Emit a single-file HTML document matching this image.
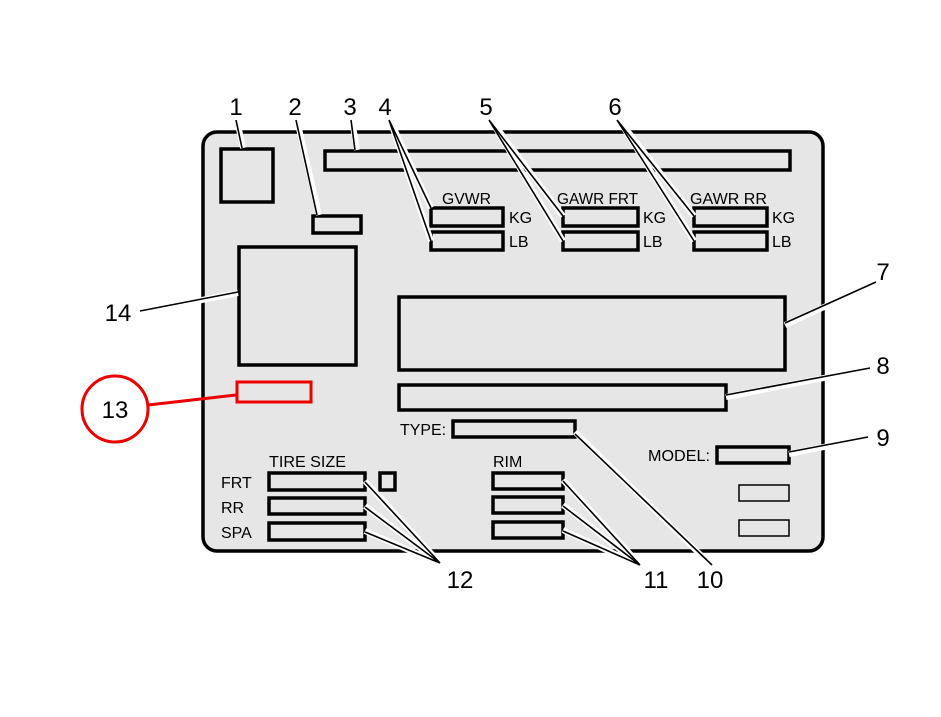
<!DOCTYPE html>
<html><head><meta charset="utf-8"><style>
html,body{margin:0;padding:0;background:#fff;}
svg{display:block;}
text{font-family:"Liberation Sans",sans-serif;fill:#000;}
.n{font-size:24px;}
.s{font-size:16px;}
</style></head><body>
<svg width="941" height="717" viewBox="0 0 941 717">
<rect x="203" y="132" width="620" height="419" rx="14" fill="#e6e6e6" stroke="#000" stroke-width="3.5"/>
<g fill="#e6e6e6" stroke="#000" stroke-width="3.5">
<rect x="221" y="149" width="52" height="53"/>
<rect x="313" y="216" width="48" height="17"/>
<rect x="325" y="151" width="465" height="19"/>
<rect x="431" y="208" width="72" height="18"/>
<rect x="431" y="232" width="72" height="18"/>
<rect x="563" y="208" width="75" height="18"/>
<rect x="563" y="232" width="75" height="18"/>
<rect x="694" y="208" width="73" height="18"/>
<rect x="694" y="232" width="73" height="18"/>
<rect x="239" y="247" width="117" height="118"/>
<rect x="399" y="297" width="386" height="73"/>
<rect x="399" y="385" width="327" height="25"/>
<rect x="453" y="421" width="122" height="16"/>
<rect x="717" y="447" width="72" height="16"/>
<rect x="269" y="473" width="96" height="17"/>
<rect x="269" y="498" width="96" height="16"/>
<rect x="269" y="523" width="96" height="17"/>
<rect x="380" y="473" width="15" height="17"/>
<rect x="493" y="473" width="70" height="16"/>
<rect x="493" y="497" width="70" height="16"/>
<rect x="493" y="522" width="70" height="16"/>
</g>
<g fill="none" stroke="#000" stroke-width="1.5">
<rect x="739" y="485" width="50" height="16"/>
<rect x="739" y="520" width="50" height="16"/>
</g>
<rect x="237" y="382" width="74" height="20" fill="#e6e6e6" stroke="#e00" stroke-width="3"/>
<g stroke="#fff" stroke-width="6" fill="none">
<path d="M237 120L243 148M297 120L319 215M352 120L357 150M390 120L431 208M390 120L431 241M491 120L563 216M491 120L563 241M619 120L694 216M619 120L694 241M876 283L785 325M870 369L726 397M868 438L789 454M712 566L575 432M641 566L563 480M641 566L563 505M641 566L563 530M441 564L365 481M441 564L365 506M441 564L365 531M140 312L238 293"/>
</g>
<g stroke="#000" stroke-width="1.6" fill="none">
<path d="M236 120L242 148M296 120L317 215M351 120L355 150M389 120L431 208M389 120L431 241M489 120L563 216M489 120L563 241M617 120L694 216M617 120L694 241M876 282L785 323M870 368L726 395M868 437L789 452M712 565L575 434M640 565L563 481M640 565L563 506M640 565L563 531M440 563L365 482M440 563L365 507M440 563L365 532M140 311L238 292"/>
</g>
<line x1="148" y1="405" x2="236" y2="395" stroke="#e00" stroke-width="3"/>
<circle cx="115" cy="409" r="33" fill="none" stroke="#e00" stroke-width="3"/>
<text class="n" x="115" y="418" text-anchor="middle">13</text>
<g class="n">
<text x="236" y="115" text-anchor="middle">1</text>
<text x="295" y="115" text-anchor="middle">2</text>
<text x="350" y="115" text-anchor="middle">3</text>
<text x="385" y="115" text-anchor="middle">4</text>
<text x="486" y="115" text-anchor="middle">5</text>
<text x="615" y="115" text-anchor="middle">6</text>
<text x="883" y="280" text-anchor="middle">7</text>
<text x="883" y="374" text-anchor="middle">8</text>
<text x="883" y="446" text-anchor="middle">9</text>
<text x="710" y="588" text-anchor="middle">10</text>
<text x="656" y="588" text-anchor="middle">11</text>
<text x="460" y="588" text-anchor="middle">12</text>
<text x="118" y="321" text-anchor="middle">14</text>
</g>
<g class="s">
<text x="442" y="204" textLength="49" lengthAdjust="spacingAndGlyphs">GVWR</text>
<text x="557" y="204" textLength="81" lengthAdjust="spacingAndGlyphs">GAWR FRT</text>
<text x="690" y="204" textLength="77" lengthAdjust="spacingAndGlyphs">GAWR RR</text>
<text x="509" y="223">KG</text><text x="509" y="247">LB</text>
<text x="643" y="223">KG</text><text x="643" y="247">LB</text>
<text x="772" y="223">KG</text><text x="772" y="247">LB</text>
<text x="400" y="435" textLength="46" lengthAdjust="spacingAndGlyphs">TYPE:</text>
<text x="648" y="461" textLength="62" lengthAdjust="spacingAndGlyphs">MODEL:</text>
<text x="269" y="467" textLength="77" lengthAdjust="spacingAndGlyphs">TIRE SIZE</text>
<text x="493" y="467">RIM</text>
<text x="221" y="488">FRT</text>
<text x="221" y="513">RR</text>
<text x="221" y="538">SPA</text>
</g>
</svg>
</body></html>
